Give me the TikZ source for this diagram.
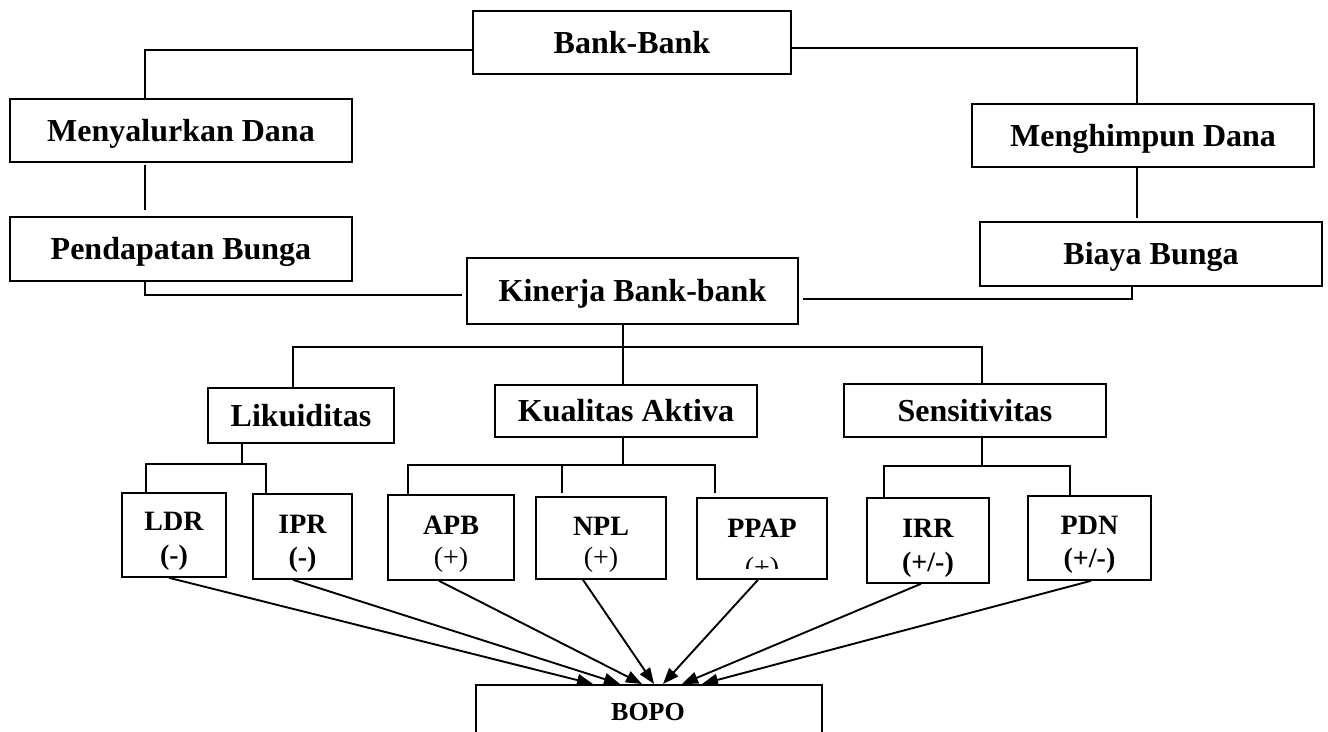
\documentclass[tikz,border=0pt]{standalone}
\usepackage{fontspec}
\setmainfont{Liberation Serif}
\usetikzlibrary{arrows.meta}
\begin{document}
\begin{tikzpicture}[x=1pt,y=-1pt, line width=1.6pt,
  box/.style={draw, line width=1.6pt, inner sep=0pt, text height=21pt, text depth=0pt,
    font=\fontsize{32}{38}\selectfont\bfseries},
  sbox/.style={draw, line width=1.6pt, inner sep=0pt},
  lt/.style={inner sep=0pt, anchor=base, font=\fontsize{28}{32}\selectfont\bfseries},
  ltr/.style={inner sep=0pt, anchor=base, font=\fontsize{28}{32}\selectfont},
  arr/.style={line width=1.9pt, -{Triangle[length=16pt,width=12pt]}}]
\clip (0,0) rectangle (1328,731);
\fill[white] (0,0) rectangle (1328,731);
% top level
\node[box, minimum width=318pt, minimum height=63pt] (bank) at (632,42.5) {Bank-Bank};
\node[box, minimum width=342pt, minimum height=63pt] (meny) at (181,130.5) {Menyalurkan Dana};
\node[box, minimum width=342pt, minimum height=64pt] (pend) at (181,249) {Pendapatan Bunga};
\node[box, minimum width=342pt, minimum height=63pt] (mengh) at (1143,135.5) {Menghimpun Dana};
\node[box, minimum width=342pt, minimum height=64pt] (biaya) at (1151,254) {Biaya Bunga};
\node[box, minimum width=331pt, minimum height=66pt] (kin) at (632.5,291) {Kinerja Bank-bank};
\node[box, minimum width=186pt, minimum height=55pt] (lik) at (301,415.5) {Likuiditas};
\node[box, minimum width=262pt, minimum height=52pt] (kual) at (626,411) {Kualitas Aktiva};
\node[box, minimum width=262pt, minimum height=53pt] (sens) at (975,410.5) {Sensitivitas};
% indicator boxes
\node[sbox, minimum width=104pt, minimum height=84pt] (ldr) at (174,535) {};
\node[sbox, minimum width=99pt, minimum height=85pt] (ipr) at (302.5,536.5) {};
\node[sbox, minimum width=126pt, minimum height=85pt] (apb) at (451,537.5) {};
\node[sbox, minimum width=130pt, minimum height=82pt] (npl) at (601,538) {};
\node[sbox, minimum width=130pt, minimum height=81pt] (ppap) at (762,538.5) {};
\node[sbox, minimum width=122pt, minimum height=85pt] (irr) at (928,540.5) {};
\node[sbox, minimum width=123pt, minimum height=84pt] (pdn) at (1089.5,538) {};
\node[lt] (ldra) at (174,530) {LDR};
\node[lt] (ldrb) at (174,564) {(-)};
\node[lt] (ipra) at (302.5,533) {IPR};
\node[lt] (iprb) at (302.5,566) {(-)};
\node[lt] (apba) at (451,534) {APB};
\node[ltr] (apbb) at (451,566) {(+)};
\node[lt] (npla) at (601,535) {NPL};
\node[ltr] (nplb) at (601,566) {(+)};
\node[lt] (ppapa) at (762,537) {PPAP};
\begin{scope}
\clip (697,540) rectangle (827,568);
\node[ltr] (ppapb) at (762,576) {(+)};
\end{scope}
\node[lt] (irra) at (928,537) {IRR};
\node[lt] (irrb) at (928,571) {(+/-)};
\node[lt] (pdna) at (1089.5,534) {PDN};
\node[lt] (pdnb) at (1089.5,567) {(+/-)};
% BOPO (cut by the lower edge)
\node[sbox, minimum width=346pt, minimum height=80pt, anchor=north] (bopo) at (649,684) {};
\node[inner sep=0pt, anchor=base, font=\fontsize{26}{30}\selectfont\bfseries] (bopot) at (648,720) {BOPO};
% connectors, upper part
\draw (bank.west |- 0,50) -| (meny.north -| 145,0);
\draw (bank.east |- 0,48) -| (mengh.north -| 1137,0);
\draw[shorten >=6pt, shorten <=2pt] (meny.south -| 145,0) -- (pend.north -| 145,0);
\draw[shorten >=3pt] (mengh.south -| 1137,0) -- (biaya.north -| 1137,0);
\draw[shorten >=4pt] (pend.south -| 145,0) |- (kin.west |- 0,295);
\draw[shorten >=4pt] (biaya.south -| 1132,0) |- (kin.east |- 0,299);
% Kinerja to groups
\coordinate (kj) at (623,347);
\draw (kin.south -| 623,0) -- (kual.north -| 623,0);
\draw (lik.north -| 293,0) |- (kj) -| (sens.north -| 982,0);
% Likuiditas
\coordinate (lj) at (242,464);
\draw (lik.south -| 242,0) -- (lj);
\draw (ldr.north -| 146,0) |- (lj) -| (ipr.north -| 266,0);
% Kualitas Aktiva
\coordinate (qj) at (623,465);
\coordinate (qn) at (562,465);
\draw (kual.south -| 623,0) -- (qj);
\draw (apb.north -| 408,0) |- (qj);
\draw[shorten >=4pt] (qj) -| (ppap.north -| 715,0);
\draw[shorten >=3pt] (qn) -- (npl.north -| 562,0);
% Sensitivitas
\coordinate (sj) at (982,466);
\draw (sens.south -| 982,0) -- (sj);
\draw (irr.north -| 884,0) |- (sj) -| (pdn.north -| 1070,0);
% arrows into BOPO
\draw[arr] (ldr.south -| 169,0) -- (bopo.north -| 593,0);
\draw[arr] (ipr.south -| 293,0) -- (bopo.north -| 620,0);
\draw[arr] (apb.south -| 439,0) -- (bopo.north -| 642,0);
\draw[arr] (npl.south -| 583,0) -- (bopo.north -| 654,0);
\draw[arr] (ppap.south -| 758,0) -- (bopo.north -| 663,0);
\draw[arr] (irr.south -| 921,0) -- (bopo.north -| 682,0);
\draw[arr] (pdn.south -| 1091,0) -- (bopo.north -| 702,0);
\end{tikzpicture}
\end{document}
